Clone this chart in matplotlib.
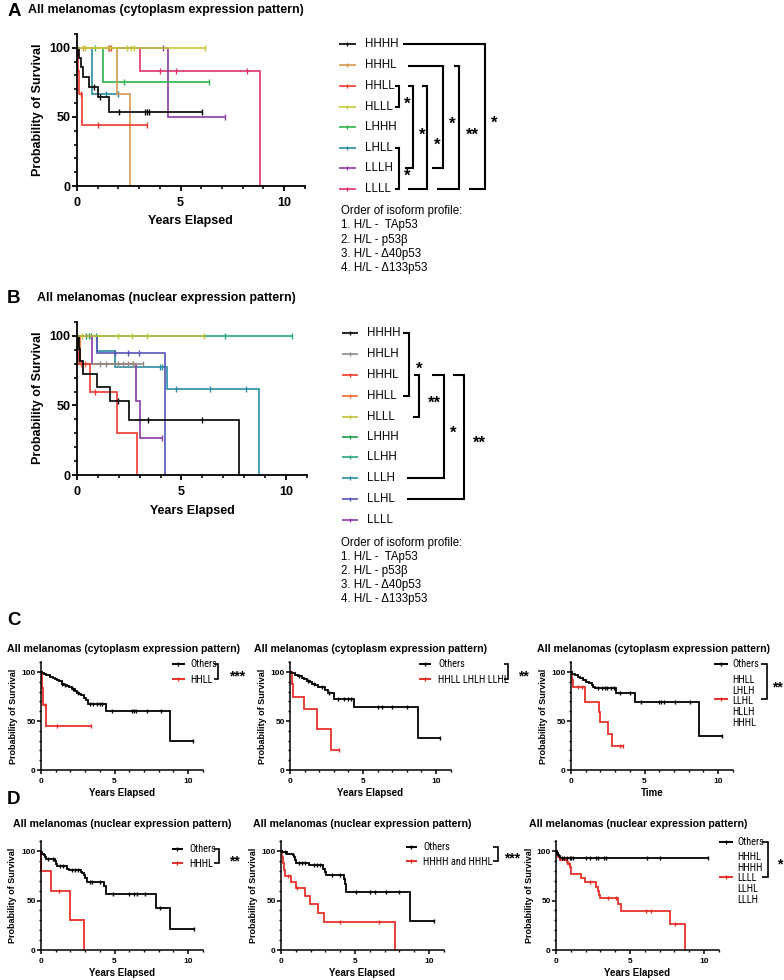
import numpy as np
import matplotlib
matplotlib.use('Agg')
import matplotlib.pyplot as plt
from matplotlib import font_manager as fm

W, H = 784, 980
plt.rcParams['font.family'] = ['Liberation Sans', 'DejaVu Sans']

# pick a narrow font for the small legends, if one is installed
_entries = fm.fontManager.ttflist
_names = {f.name for f in _entries}
NARROW_KW = None
for cand in ['Liberation Sans Narrow', 'Arial Narrow', 'Roboto Condensed', 'Open Sans Condensed',
             'Noto Sans Condensed', 'Noto Sans SemiCondensed']:
    if cand in _names:
        NARROW_KW = dict(family=[cand, 'DejaVu Sans'])
        break
if NARROW_KW is None:
    for f in _entries:
        if f.name in ('Noto Sans', 'Roboto', 'Open Sans') and str(f.stretch) in ('condensed', 'semi-condensed', 'extra-condensed') \
                and str(f.style) == 'normal':
            NARROW_KW = dict(family=[f.name, 'DejaVu Sans'], fontstretch=str(f.stretch))
            break
if NARROW_KW is None:
    NARROW_KW = dict(family=['Liberation Sans', 'DejaVu Sans'])
    LEG_FS = 6.1
else:
    LEG_FS = 7.5

# ======================= DATA =======================
# Each curve: event times (years), survival after each event (%), end of follow-up, censor times
# ---- Panel A: cytoplasm expression pattern ----
A_groups = ['HHHH', 'HHHL', 'HHLL', 'HLLL', 'LHHH', 'LHLL', 'LLLH', 'LLLL']
A_colors = ['#000000', '#d49a4c', '#ee3b2f', '#c8c83a', '#2db34d', '#2a8ea6', '#8c3ba6', '#e2306f']
A_HHHH_t = [0.10, 0.19, 0.30, 0.60, 1.00, 1.57]
A_HHHH_s = [92.9, 85.7, 78.6, 71.4, 64.3, 53.6]
A_HHHH_end = 6.05
A_HHHH_c = [0.80, 1.10, 2.05, 3.30, 3.40, 3.50, 6.05]
A_HHHL_t = [1.93, 2.57]
A_HHHL_s = [66.7, 0.0]
A_HHHL_end = 2.57
A_HHHL_c = [0.30, 1.50]
A_HHLL_t = [0.04, 0.10, 0.25]
A_HHLL_s = [83.3, 66.7, 44.4]
A_HHLL_end = 3.38
A_HHLL_c = [0.17, 1.00, 3.38]
A_HLLL_t = []
A_HLLL_s = []
A_HLLL_end = 6.20
A_HLLL_c = [0.39, 1.60, 2.40, 2.62, 2.73, 6.20]
A_LHHH_t = [1.28]
A_LHHH_s = [75.0]
A_LHHH_end = 6.40
A_LHHH_c = [0.87, 2.28, 6.40]
A_LHLL_t = [0.71]
A_LHLL_s = [66.7]
A_LHLL_end = 2.00
A_LHLL_c = [1.40, 2.00]
A_LLLH_t = [4.38]
A_LLLH_s = [50.0]
A_LLLH_end = 7.13
A_LLLH_c = [4.14, 7.13]
A_LLLL_t = [3.03, 8.83]
A_LLLL_s = [83.3, 0.0]
A_LLLL_end = 8.83
A_LLLL_c = [1.55, 1.65, 4.03, 4.79, 8.20]

# ---- Panel B: nuclear expression pattern ----
B_groups = ['HHHH', 'HHLH', 'HHHL', 'HHLL', 'HLLL', 'LHHH', 'LLHH', 'LLLH', 'LLHL', 'LLLL']
B_colors = ['#000000', '#8c8c8c', '#ee3b2f', '#f26d2c', '#c2c234', '#1f9a4a', '#26a77f', '#2a8ea6', '#5555bb', '#8c3ba6']
B_HHHH_t = [0.10, 0.13, 0.29, 0.95, 1.56, 2.50, 7.75]
B_HHHH_s = [90.9, 81.8, 72.7, 63.6, 53.0, 39.8, 0.0]
B_HHHH_end = 7.75
B_HHHH_c = [1.98, 3.41, 6.00]
B_HHLH_t = [0.08]
B_HHLH_s = [80.0]
B_HHLH_end = 3.17
B_HHLH_c = [1.10, 1.40, 1.98, 2.20, 2.45, 2.70, 3.17]
B_HHHL_t = [0.03, 0.60, 1.90, 2.86]
B_HHHL_s = [80.0, 60.0, 30.0, 0.0]
B_HHHL_end = 2.86
B_HHHL_c = [0.87]
B_HHLL_t = [0.15]
B_HHLL_s = [80.0]
B_HHLL_end = 2.80
B_HHLL_c = [0.19, 0.40, 2.67]
B_HLLL_t = []
B_HLLL_s = []
B_HLLL_end = 6.10
B_HLLL_c = [0.24, 1.98, 2.62, 3.33, 6.10]
B_LHHH_t = []
B_LHHH_s = []
B_LHHH_end = 0.90
B_LHHH_c = [0.44, 0.56, 0.67, 0.90]
B_LLHH_t = []
B_LLHH_s = []
B_LLHH_end = 10.30
B_LLHH_c = [7.06, 10.30]
B_LLLH_t = [0.95, 1.83, 4.33, 8.73]
B_LLLH_s = [88.9, 77.8, 62.2, 0.0]
B_LLLH_end = 8.73
B_LLLH_c = [3.97, 4.08, 4.73, 6.35, 8.10]
B_LLHL_t = [0.95, 4.20]
B_LLHL_s = [87.5, 0.0]
B_LLHL_end = 4.20
B_LLHL_c = [1.83, 2.46, 2.98]
B_LLLL_t = [0.71, 2.83, 3.00]
B_LLLL_s = [80.0, 53.3, 26.7]
B_LLLL_end = 4.05
B_LLLL_c = [4.05]

# ---- Panel C (cytoplasm, grouped) ----
C1_oth_t = [0.05, 0.20, 0.35, 0.60, 0.80, 0.95, 1.10, 1.25, 1.40, 1.55, 1.75, 1.90, 2.10, 2.30, 2.45, 2.60, 2.75, 2.90, 3.05, 3.20, 4.40, 8.80]
C1_oth_s = [98.9, 97.7, 96.5, 95.3, 94.1, 92.9, 91.6, 90.4, 88.0, 86.8, 85.5, 84.2, 82.9, 80.3, 79.0, 77.7, 76.4, 73.8, 71.2, 67.3, 59.8, 29.9]
C1_oth_end = 10.35
C1_oth_c = [1.45, 1.60, 2.20, 2.50, 3.34, 3.57, 3.80, 4.00, 4.14, 4.80, 6.20, 6.34, 6.48, 7.20, 8.18, 10.35]
C1_grp_t = [0.05, 0.16, 0.32]
C1_grp_s = [83.3, 66.7, 44.4]
C1_grp_end = 3.40
C1_grp_c = [0.25, 1.07, 3.40]
C1_labels = ['Others', 'HHLL']

C2_oth_t = [0.10, 0.34, 0.57, 0.80, 0.95, 1.14, 1.36, 1.50, 1.70, 1.93, 2.40, 2.60, 3.00, 4.36, 8.75]
C2_oth_s = [98.6, 97.2, 95.8, 94.3, 92.9, 91.3, 89.7, 88.1, 86.5, 84.9, 81.6, 78.3, 72.5, 64.4, 32.2]
C2_oth_end = 10.30
C2_oth_c = [0.60, 1.20, 1.65, 2.20, 2.70, 3.30, 3.70, 4.00, 4.20, 6.00, 6.30, 7.00, 8.00, 10.30]
C2_grp_t = [0.11, 0.23, 0.95, 1.86, 2.84]
C2_grp_s = [87.5, 75.0, 62.5, 41.7, 20.8]
C2_grp_end = 3.36
C2_grp_c = [3.36]
C2_labels = ['Others', 'HHLL LHLH LLHL']

C3_oth_t = [0.10, 0.30, 0.45, 0.60, 0.80, 1.00, 1.20, 1.40, 1.50, 1.65, 3.05, 4.36, 8.70]
C3_oth_s = [98.4, 96.8, 95.2, 93.5, 91.9, 90.3, 88.7, 87.1, 85.2, 83.5, 78.5, 69.7, 34.9]
C3_oth_end = 10.25
C3_oth_c = [1.86, 2.09, 2.32, 2.48, 2.70, 2.95, 3.34, 4.00, 4.75, 6.00, 6.15, 6.30, 7.10, 8.10, 10.25]
C3_grp_t = [0.05, 0.15, 0.95, 1.88, 1.95, 2.55, 2.77]
C3_grp_s = [92.3, 84.6, 69.2, 59.3, 49.4, 37.0, 24.7]
C3_grp_end = 3.55
C3_grp_c = [0.50, 0.73, 3.34, 3.55]
C3_labels = ['Others', 'HHLL\nLHLH\nLLHL\nHLLH\nHHHL']

# ---- Panel D (nuclear, grouped) ----
D1_oth_t = [0.03, 0.10, 0.20, 0.30, 0.35, 0.95, 1.00, 1.10, 1.75, 1.90, 2.70, 2.80, 2.90, 3.00, 3.10, 4.30, 4.45, 7.80, 8.80]
D1_oth_s = [98.7, 97.4, 96.1, 93.5, 92.2, 89.6, 87.0, 84.4, 81.8, 80.5, 79.0, 77.5, 76.0, 73.0, 69.0, 65.0, 56.2, 42.2, 21.1]
D1_oth_end = 10.40
D1_oth_c = [0.50, 0.80, 1.30, 1.50, 2.10, 2.30, 2.50, 3.30, 3.50, 4.00, 4.90, 6.00, 6.30, 6.50, 7.10, 8.10, 10.40]
D1_grp_t = [0.02, 0.70, 2.00, 2.90]
D1_grp_s = [80.0, 60.0, 30.0, 0.0]
D1_grp_end = 2.90
D1_grp_c = [1.25]
D1_labels = ['Others', 'HHHL']

D2_oth_t = [0.10, 0.40, 0.80, 0.85, 0.95, 1.00, 1.86, 2.87, 2.98, 3.05, 4.26, 4.35, 4.40, 8.74]
D2_oth_s = [98.6, 97.2, 95.8, 94.2, 91.0, 88.0, 85.7, 82.2, 78.9, 76.0, 72.0, 67.0, 59.0, 29.5]
D2_oth_end = 10.35
D2_oth_c = [0.30, 1.20, 1.40, 1.65, 2.20, 2.40, 2.65, 3.45, 4.00, 5.10, 6.00, 6.35, 7.10, 8.00, 10.35]
D2_grp_t = [0.05, 0.12, 0.20, 0.30, 0.67, 1.00, 1.60, 1.97, 2.49, 2.90, 7.73]
D2_grp_s = [93.75, 87.5, 81.25, 75.0, 68.75, 62.5, 54.7, 46.9, 37.5, 28.1, 0.0]
D2_grp_end = 7.73
D2_grp_c = [0.45, 1.10, 4.00, 6.60]
D2_labels = ['Others', 'HHHH and HHHL']

D3_oth_t = [0.05, 0.12, 0.20, 0.30]
D3_oth_s = [98.0, 96.0, 94.5, 92.6]
D3_oth_end = 10.30
D3_oth_c = [0.38, 0.55, 0.71, 0.93, 1.04, 1.16, 2.04, 2.33, 2.67, 2.82, 3.27, 3.38, 6.16, 7.04, 10.30]
D3_grp_t = [0.04, 0.11, 0.27, 0.71, 0.82, 0.93, 1.00, 1.04, 1.71, 1.93, 2.67, 2.87, 2.93, 3.00, 4.20, 4.38, 7.71, 8.71]
D3_grp_s = [97.1, 94.1, 91.1, 88.9, 86.6, 84.2, 81.8, 77.0, 72.9, 68.3, 64.0, 60.0, 56.0, 52.5, 46.0, 39.7, 26.4, 0.0]
D3_grp_end = 8.71
D3_grp_c = [0.75, 0.90, 2.30, 3.50, 4.05, 6.10, 6.40, 8.05]
D3_labels = ['Others', 'HHHL\nHHHH\nLLLL\nLLHL\nLLLH']

ISOFORM_LINES = ['Order of isoform profile:', '1. H/L -  TAp53', '2. H/L - p53\u03b2',
                 '3. H/L - \u039440p53', '4. H/L - \u0394133p53']
RED = '#e8312a'

# ======================= HELPERS =======================
fig = plt.figure(figsize=(W / 100, H / 100), dpi=100)
fig.patch.set_facecolor('white')

ov = fig.add_axes([0, 0, 1, 1])
ov.set_xlim(0, W)
ov.set_ylim(H, 0)
ov.axis('off')
ov.patch.set_visible(False)
ov.set_zorder(5)


def make_ax(x0, x11, y0, y110, tfs, big=True):
    ax = fig.add_axes([x0 / W, 1 - y0 / H, (x11 - x0) / W, (y0 - y110) / H])
    ax.patch.set_visible(False)
    ax.set_xlim(0, 11)
    ax.set_ylim(0, 110)
    for sp in ['top', 'right']:
        ax.spines[sp].set_visible(False)
    lw = 1.3 if big else 1.1
    for sp in ['left', 'bottom']:
        ax.spines[sp].set_linewidth(lw)
    ax.set_xticks([0, 5, 10])
    ax.set_xticks(np.arange(0, 12, 1), minor=True)
    ax.set_yticks([0, 50, 100])
    ax.set_yticks(np.arange(0, 111, 10), minor=True)
    ml = 3.6 if big else 2.6
    ax.tick_params(which='major', length=ml, width=lw, labelsize=tfs)
    ax.tick_params(which='minor', length=ml * 0.6, width=lw * 0.9)
    ax.tick_params(axis='x', which='major', pad=4.5 if big else 3.2)
    ax.tick_params(axis='y', which='major', pad=1.2)
    for lab in ax.get_xticklabels() + ax.get_yticklabels():
        lab.set_fontweight('bold')
    return ax


def surv_at(t, s, c):
    i = np.searchsorted(np.asarray(t, float), c, side='right')
    return 100.0 if i == 0 else s[i - 1]


def km(ax, t, s, end, cens, color, lw=1.2, ms=4.0):
    x = np.r_[0.0, t, end]
    y = np.r_[100.0, s, s[-1] if len(s) else 100.0]
    ax.plot(x, y, drawstyle='steps-post', color=color, lw=lw, clip_on=False,
            solid_joinstyle='miter')
    cy = [surv_at(t, s, c) for c in cens]
    ax.plot(cens, cy, ls='none', marker='|', ms=ms, mew=1.0, color=color, clip_on=False)


def labels(ax, xl, yl, xlab_xy, ylab_xy, xfs, yfs):
    ax.set_xlabel(xl, fontsize=xfs, fontweight='bold')
    ax.set_ylabel(yl, fontsize=yfs, fontweight='bold')
    ax.xaxis.set_label_coords(xlab_xy[0], xlab_xy[1], transform=ov.transData)
    ax.yaxis.set_label_coords(ylab_xy[0], ylab_xy[1], transform=ov.transData)
    ax.xaxis.label.set_verticalalignment('center')
    ax.yaxis.label.set_verticalalignment('center')


def bracket(xv, y1, y2, xa, xb, lw=1.5):
    ov.plot([xa, xv, xv, xb], [y1, y1, y2, y2], color='k', lw=lw,
            solid_joinstyle='miter', solid_capstyle='butt')


def star(x, y, s, fs):
    ov.text(x, y + 0.58 * fs * 100 / 72, s, ha='center', va='baseline', fontsize=fs,
            fontweight='bold')


def leg_sample(x1, x2, y, color, lw=1.2, ms=3.5):
    ov.plot([x1, x2], [y, y], color=color, lw=lw, solid_capstyle='butt')
    ov.plot([(x1 + x2) / 2], [y], marker='|', ms=ms, mew=1.0, color=color)


# ======================= PANEL A =======================
ov.text(8, 11, 'A', fontsize=13.5, fontweight='bold', va='center', ha='left')
ov.text(28, 10, 'All melanomas (cytoplasm expression pattern)', fontsize=8.9, fontweight='bold',
        va='center', ha='left')
axA = make_ax(77, 77 + 11 * 20.7, 186, 186 - 110 * 1.383, 9)
A_data = {
    'HHHH': (A_HHHH_t, A_HHHH_s, A_HHHH_end, A_HHHH_c),
    'HHHL': (A_HHHL_t, A_HHHL_s, A_HHHL_end, A_HHHL_c),
    'HHLL': (A_HHLL_t, A_HHLL_s, A_HHLL_end, A_HHLL_c),
    'HLLL': (A_HLLL_t, A_HLLL_s, A_HLLL_end, A_HLLL_c),
    'LHHH': (A_LHHH_t, A_LHHH_s, A_LHHH_end, A_LHHH_c),
    'LHLL': (A_LHLL_t, A_LHLL_s, A_LHLL_end, A_LHLL_c),
    'LLLH': (A_LLLH_t, A_LLLH_s, A_LLLH_end, A_LLLH_c),
    'LLLL': (A_LLLL_t, A_LLLL_s, A_LLLL_end, A_LLLL_c),
}
A_col = dict(zip(A_groups, A_colors))
for g in ['LLLL', 'LLLH', 'LHHH', 'LHLL', 'HHHL', 'HHLL', 'HHHH', 'HLLL']:
    km(axA, *A_data[g], A_col[g])
labels(axA, 'Years Elapsed', 'Probability of Survival', (190, 221), (38, 110), 9, 9)

A_leg_y = [44, 65, 86, 107, 127, 148, 168, 189]
for g, c, y in zip(A_groups, A_colors, A_leg_y):
    leg_sample(339, 356, y, c)
    ov.text(365, y, g, fontsize=8.3, va='center', ha='left')
bracket(399, 86, 107, 395, 395)
star(407, 99, '*', 12)
bracket(399, 148, 189, 395, 395)
star(407, 171, '*', 12)
bracket(413, 86, 168, 408, 405)
star(422, 130, '*', 12)
bracket(427, 86, 189, 422, 408)
star(437, 140, '*', 12)
bracket(443, 66, 168, 408, 432)
star(452, 119, '*', 12)
bracket(459, 66, 189, 454, 437)
star(472, 130, '**', 12)
bracket(485, 44, 189, 403, 469)
star(494, 118, '*', 12)
for i, s in enumerate(ISOFORM_LINES):
    ov.text(341, 211 + 14.3 * i, s, fontsize=8.3, va='center', ha='left')

# ======================= PANEL B =======================
ov.text(7, 298, 'B', fontsize=13.5, fontweight='bold', va='center', ha='left')
ov.text(37, 298, 'All melanomas (nuclear expression pattern)', fontsize=8.9, fontweight='bold',
        va='center', ha='left')
axB = make_ax(77, 77 + 11 * 20.9, 475, 475 - 110 * 1.39, 9)
B_data = {
    'HHHH': (B_HHHH_t, B_HHHH_s, B_HHHH_end, B_HHHH_c),
    'HHLH': (B_HHLH_t, B_HHLH_s, B_HHLH_end, B_HHLH_c),
    'HHHL': (B_HHHL_t, B_HHHL_s, B_HHHL_end, B_HHHL_c),
    'HHLL': (B_HHLL_t, B_HHLL_s, B_HHLL_end, B_HHLL_c),
    'HLLL': (B_HLLL_t, B_HLLL_s, B_HLLL_end, B_HLLL_c),
    'LHHH': (B_LHHH_t, B_LHHH_s, B_LHHH_end, B_LHHH_c),
    'LLHH': (B_LLHH_t, B_LLHH_s, B_LLHH_end, B_LLHH_c),
    'LLLH': (B_LLLH_t, B_LLLH_s, B_LLLH_end, B_LLLH_c),
    'LLHL': (B_LLHL_t, B_LLHL_s, B_LLHL_end, B_LLHL_c),
    'LLLL': (B_LLLL_t, B_LLLL_s, B_LLLL_end, B_LLLL_c),
}
B_col = dict(zip(B_groups, B_colors))
for g in ['LLHH', 'LHHH', 'LLLH', 'LLHL', 'LLLL', 'HHLL', 'HHLH', 'HHHL', 'HHHH', 'HLLL']:
    km(axB, *B_data[g], B_col[g])
labels(axB, 'Years Elapsed', 'Probability of Survival', (192, 511), (38, 398), 9, 9)

B_leg_y = [333, 354, 375, 396, 417, 437, 457, 478, 499, 520]
for g, c, y in zip(B_groups, B_colors, B_leg_y):
    leg_sample(342, 358, y, c)
    ov.text(367, y, g, fontsize=8.3, va='center', ha='left')
bracket(409, 333, 396, 403, 403)
star(419, 364, '*', 12)
bracket(419, 375, 417, 414, 413)
star(434, 398, '**', 12)
bracket(444, 375, 478, 432, 407)
star(453, 428, '*', 12)
bracket(464, 375, 499, 453, 407)
star(479, 438, '**', 12)
for i, s in enumerate(ISOFORM_LINES):
    ov.text(341, 543 + 14.1 * i, s, fontsize=8.3, va='center', ha='left')

# ======================= PANELS C & D =======================
ov.text(7, 620, 'C', fontsize=13.5, fontweight='bold', va='center', ha='left')
ov.text(7, 799, 'D', fontsize=13.5, fontweight='bold', va='center', ha='left')

small = [
    dict(title='All melanomas (cytoplasm expression pattern)', tx=7, ty=649,
         geo=(41, 41 + 11 * 14.7, 770, 672 - 10 * 0.98), xl='Years Elapsed',
         oth=(C1_oth_t, C1_oth_s, C1_oth_end, C1_oth_c), grp=(C1_grp_t, C1_grp_s, C1_grp_end, C1_grp_c),
         labs=C1_labels, lx=(172, 185, 190), ly=(664, 679), redy=679, br=(218, 664, 679, 214),
         st=(237, 672, '***', 10), ylx=14),
    dict(title='All melanomas (cytoplasm expression pattern)', tx=254, ty=649,
         geo=(290, 290 + 11 * 14.6, 770, 672 - 10 * 0.98), xl='Years Elapsed',
         oth=(C2_oth_t, C2_oth_s, C2_oth_end, C2_oth_c), grp=(C2_grp_t, C2_grp_s, C2_grp_end, C2_grp_c),
         labs=C2_labels, lx=(419, 431, 438), ly=(664, 679), redy=679, br=(508, 664, 679, 504),
         st=(523, 672, '**', 10), ylx=263),
    dict(title='All melanomas (cytoplasm expression pattern)', tx=537, ty=649,
         geo=(571, 571 + 11 * 14.7, 770, 672 - 10 * 0.98), xl='Time',
         oth=(C3_oth_t, C3_oth_s, C3_oth_end, C3_oth_c), grp=(C3_grp_t, C3_grp_s, C3_grp_end, C3_grp_c),
         labs=C3_labels, lx=(714, 728, 732), ly=(664, 679), redy=699, br=(767, 664, 699, 761),
         st=(777, 683, '**', 10), ylx=544),
    dict(title='All melanomas (nuclear expression pattern)', tx=13, ty=824,
         geo=(41, 41 + 11 * 14.7, 950, 851 - 10 * 0.99), xl='Years Elapsed',
         oth=(D1_oth_t, D1_oth_s, D1_oth_end, D1_oth_c), grp=(D1_grp_t, D1_grp_s, D1_grp_end, D1_grp_c),
         labs=D1_labels, lx=(172, 183, 189), ly=(849, 863), redy=863, br=(219, 849, 863, 214),
         st=(234, 857, '**', 10), ylx=13),
    dict(title='All melanomas (nuclear expression pattern)', tx=253, ty=824,
         geo=(281, 281 + 11 * 14.8, 950, 851 - 10 * 0.99), xl='Years Elapsed',
         oth=(D2_oth_t, D2_oth_s, D2_oth_end, D2_oth_c), grp=(D2_grp_t, D2_grp_s, D2_grp_end, D2_grp_c),
         labs=D2_labels, lx=(406, 417, 423), ly=(847, 861), redy=861, br=(498, 847, 861, 493),
         st=(512, 854, '***', 10), ylx=253),
    dict(title='All melanomas (nuclear expression pattern)', tx=529, ty=824,
         geo=(556, 556 + 11 * 14.8, 950, 851 - 10 * 0.99), xl='Years Elapsed',
         oth=(D3_oth_t, D3_oth_s, D3_oth_end, D3_oth_c), grp=(D3_grp_t, D3_grp_s, D3_grp_end, D3_grp_c),
         labs=D3_labels, lx=(719, 733, 737), ly=(842, 856), redy=877, br=(768, 842, 877, 762),
         st=(780, 860, '*', 10), ylx=530),
]

for p in small:
    x0, x11, y0, y110 = p['geo']
    ax = make_ax(x0, x11, y0, y110, 6, big=False)
    km(ax, *p['grp'], RED, lw=1.3, ms=3.5)
    km(ax, *p['oth'], 'black', lw=1.3, ms=3.5)
    labels(ax, p['xl'], 'Probability of Survival', ((x0 + x11) / 2, y0 + 23),
           (p['ylx'], (y0 + y110) / 2), 7, 6.5)
    ov.text(p['tx'], p['ty'], p['title'], fontsize=7.6, fontweight='bold', va='center', ha='left')
    lx1, lx2, tx = p['lx']
    leg_sample(lx1, lx2, p['ly'][0], 'black', lw=1.4, ms=3)
    leg_sample(lx1, lx2, p['redy'], RED, lw=1.4, ms=3)
    ov.text(tx, p['ly'][0], p['labs'][0], fontsize=LEG_FS, va='center', ha='left', **NARROW_KW)
    ov.text(tx, p['ly'][1] - 4.3, p['labs'][1], fontsize=LEG_FS, va='top', ha='left',
            linespacing=1.1, **NARROW_KW)
    xv, y1, y2, xa = p['br']
    bracket(xv, y1, y2, xa, xa, lw=1.2)
    sx, sy, ss, sfs = p['st']
    star(sx, sy, ss, sfs)

fig.savefig('out.png', dpi=100, facecolor='white')
